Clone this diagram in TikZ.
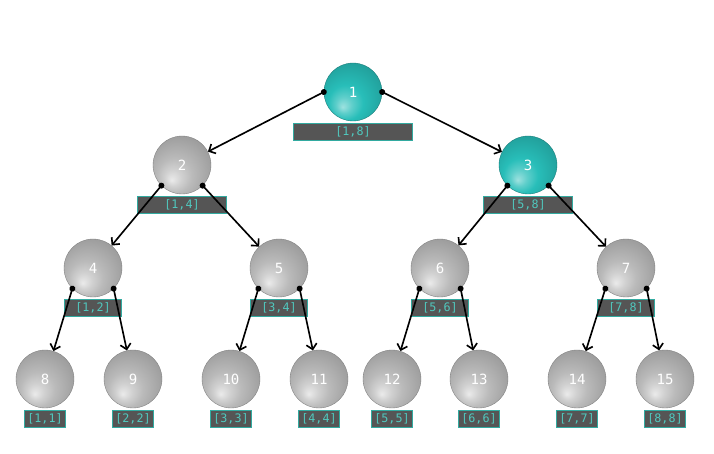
\documentclass[tikz,border=0pt]{standalone}
\usepackage{fontspec}
\setmainfont{DejaVu Sans}
\setmonofont{DejaVu Sans Mono}
\usetikzlibrary{arrows.meta,positioning,shadings}

\definecolor{segteal}{RGB}{40,190,185}
\definecolor{segline}{RGB}{50,170,160}
\definecolor{segtext}{RGB}{80,200,190}
\definecolor{segfill}{RGB}{85,85,85}

% soft balls, light spot at lower left
\pgfdeclareradialshading{grayball}{\pgfpoint{-9bp}{-13bp}}{color(0bp)=(white!92!black); color(7bp)=(white!82!black); color(15bp)=(white!73!black); color(30bp)=(white!62!black); color(50bp)=(white!50!black)}
\pgfdeclareradialshading{tealball}{\pgfpoint{-9bp}{-13bp}}{color(0bp)=(segteal!45!white); color(7bp)=(segteal!75!white); color(15bp)=(segteal); color(30bp)=(segteal!85!black); color(50bp)=(segteal!70!black)}

\begin{document}
\begin{tikzpicture}[
    x=0.03cm, y=-0.03cm,
    seg/.style={circle, minimum size=1.74cm, inner sep=0, text=white, font=\ttfamily\fontsize{12}{12}\selectfont},
    seggray/.style={seg, shading=grayball, draw=white!50!black, line width=0.3pt},
    segcyan/.style={seg, shading=tealball, draw=segteal!65!black, line width=0.3pt},
    segrange/.style={draw=segline, fill=segfill, text=segtext, line width=0.8pt, inner sep=0, minimum height=0.52cm, font=\ttfamily\fontsize{10}{10}\selectfont},
    link/.style={{Circle[length=5pt]}-{Straight Barb[length=4.5pt,width=9pt]}, line width=1.4pt, shorten <=-2.5pt}
  ]
    \useasboundingbox (0,0) rectangle (714,454);

    % segment tree nodes
    \node[segcyan] (n1) at (353,92) {1};
    \node[seggray] (n2) at (182,165) {2};
    \node[segcyan] (n3) at (528,165) {3};
    \node[seggray] (n4) at (93,268) {4};
    \node[seggray] (n5) at (279,268) {5};
    \node[seggray] (n6) at (440,268) {6};
    \node[seggray] (n7) at (626,268) {7};
    \node[seggray] (n8) at (45,379) {8};
    \node[seggray] (n9) at (133,379) {9};
    \node[seggray] (n10) at (231,379) {10};
    \node[seggray] (n11) at (319,379) {11};
    \node[seggray] (n12) at (392,379) {12};
    \node[seggray] (n13) at (479,379) {13};
    \node[seggray] (n14) at (577,379) {14};
    \node[seggray] (n15) at (665,379) {15};

    % ranges
    \node[segrange, minimum width=3.57cm, below=0.5mm of n1] (r1) {[1,8]};
    \node[segrange, minimum width=2.67cm, below=0.5mm of n2] (r2) {[1,4]};
    \node[segrange, minimum width=2.67cm, below=0.5mm of n3] (r3) {[5,8]};
    \node[segrange, minimum width=1.71cm, below=0.5mm of n4] (r4) {[1,2]};
    \node[segrange, minimum width=1.71cm, below=0.5mm of n5] (r5) {[3,4]};
    \node[segrange, minimum width=1.71cm, below=0.5mm of n6] (r6) {[5,6]};
    \node[segrange, minimum width=1.71cm, below=0.5mm of n7] (r7) {[7,8]};
    \node[segrange, minimum width=1.23cm, below=0.5mm of n8] (r8) {[1,1]};
    \node[segrange, minimum width=1.23cm, below=0.5mm of n9] (r9) {[2,2]};
    \node[segrange, minimum width=1.23cm, below=0.5mm of n10] (r10) {[3,3]};
    \node[segrange, minimum width=1.23cm, below=0.5mm of n11] (r11) {[4,4]};
    \node[segrange, minimum width=1.23cm, below=0.5mm of n12] (r12) {[5,5]};
    \node[segrange, minimum width=1.23cm, below=0.5mm of n13] (r13) {[6,6]};
    \node[segrange, minimum width=1.23cm, below=0.5mm of n14] (r14) {[7,7]};
    \node[segrange, minimum width=1.23cm, below=0.5mm of n15] (r15) {[8,8]};

    % edges
    \draw[link] (n1.west) -- (n2);
    \draw[link] (n1.east) -- (n3);

    \draw[link] (n2.south west) -- (n4);
    \draw[link] (n2.south east) -- (n5);
    \draw[link] (n3.south west) -- (n6);
    \draw[link] (n3.south east) -- (n7);

    \draw[link] (n4.south west) -- (n8);
    \draw[link] (n4.south east) -- (n9);
    \draw[link] (n5.south west) -- (n10);
    \draw[link] (n5.south east) -- (n11);
    \draw[link] (n6.south west) -- (n12);
    \draw[link] (n6.south east) -- (n13);
    \draw[link] (n7.south west) -- (n14);
    \draw[link] (n7.south east) -- (n15);
  \end{tikzpicture}
\end{document}
